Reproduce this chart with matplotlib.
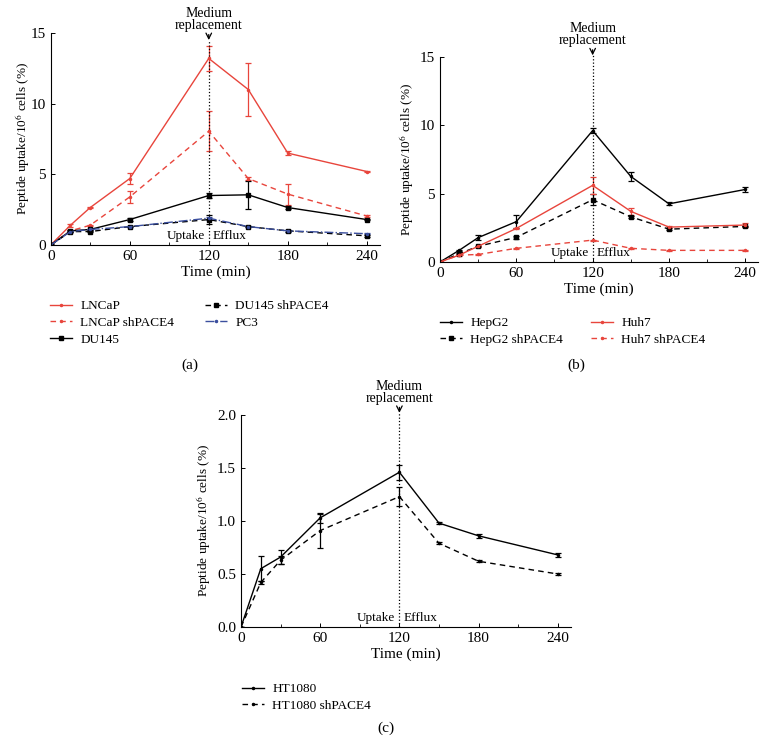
import matplotlib
matplotlib.use("Agg")
import matplotlib.pyplot as plt
from matplotlib.ticker import MultipleLocator, FormatStrFormatter
import matplotlib.transforms as mtransforms

plt.rcParams['font.family'] = ['Liberation Serif', 'DejaVu Serif']
plt.rcParams['font.size'] = 11
plt.rcParams['mathtext.fontset'] = 'stix'

RED = '#e8453c'
BLUE = '#3b4f9e'

# sampling times (min)
time = [0, 15, 30, 60, 120, 150, 180, 240]

# panel (a): prostate lines
lncap = [0, 1.4, 2.65, 4.7, 13.2, 11.0, 6.5, 5.2]
lncap_err = [0, 0.1, 0.05, 0.4, 0.9, 1.85, 0.15, 0.05]
lncap_sh = [0, 1.0, 1.4, 3.4, 8.05, 4.7, 3.6, 2.05]
lncap_sh_err = [0, 0.05, 0.05, 0.4, 1.4, 0.1, 0.75, 0.1]
du145 = [0, 1.0, 1.1, 1.8, 3.5, 3.55, 2.65, 1.8]
du145_err = [0, 0.05, 0.05, 0.1, 0.15, 1.0, 0.1, 0.05]
du145_sh = [0, 0.95, 0.95, 1.3, 1.8, 1.3, 1.0, 0.65]
du145_sh_err = [0, 0.05, 0.05, 0.05, 0.3, 0.05, 0.05, 0.05]
pc3 = [0, 0.95, 1.1, 1.3, 1.9, 1.3, 1.0, 0.8]
pc3_err = [0, 0.05, 0.05, 0.05, 0.1, 0.05, 0.05, 0.05]

# panel (b): liver lines
hepg2 = [0, 0.85, 1.78, 2.95, 9.6, 6.25, 4.25, 5.3]
hepg2_err = [0, 0.05, 0.2, 0.5, 0.2, 0.3, 0.1, 0.15]
hepg2_sh = [0, 0.6, 1.15, 1.8, 4.55, 3.3, 2.4, 2.6]
hepg2_sh_err = [0, 0.05, 0.05, 0.1, 0.4, 0.05, 0.05, 0.05]
huh7 = [0, 0.5, 1.15, 2.45, 5.6, 3.7, 2.55, 2.7]
huh7_err = [0, 0.05, 0.05, 0.05, 0.6, 0.25, 0.1, 0.15]
huh7_sh = [0, 0.5, 0.55, 1.0, 1.6, 1.0, 0.85, 0.85]
huh7_sh_err = [0, 0.02, 0.02, 0.02, 0.03, 0.02, 0.02, 0.02]

# panel (c): fibrosarcoma
ht1080 = [0, 0.55, 0.66, 1.03, 1.46, 0.98, 0.86, 0.68]
ht1080_err = [0, 0.12, 0.07, 0.05, 0.07, 0.01, 0.02, 0.02]
ht1080_sh = [0, 0.42, 0.63, 0.91, 1.23, 0.79, 0.62, 0.5]
ht1080_sh_err = [0, 0.01, 0.04, 0.16, 0.09, 0.01, 0.01, 0.01]

W, H = 766, 744


def px_axes(fig, x0, x1, y0, y1):
    """x0/x1 left/right px, y0/y1 top/bottom px (from top)"""
    return fig.add_axes([x0 / W, (H - y1) / H, (x1 - x0) / W, (y1 - y0) / H])


def series(ax, y, err, color, ls, marker, label):
    c = ax.errorbar(time, y, yerr=err, color=color, ls=ls, lw=1.0,
                    marker=marker, ms=3, capsize=2, elinewidth=0.9,
                    capthick=0.9, dashes=None if ls in ('-', '-.') else (4, 3))
    # legend shows only the line + marker
    return c[0], label


def style(ax, ymax, ystep, tip, fmt=None, ypad=3):
    ax.set_xlim(0, 250)
    ax.set_ylim(0, ymax)
    ax.spines['top'].set_visible(False)
    ax.spines['right'].set_visible(False)
    ax.xaxis.set_major_locator(MultipleLocator(60))
    ax.xaxis.set_minor_locator(MultipleLocator(30))
    ax.yaxis.set_major_locator(MultipleLocator(ystep))
    if fmt:
        ax.yaxis.set_major_formatter(FormatStrFormatter(fmt))
    ax.tick_params(which='major', direction='in', length=3, width=0.7)
    ax.tick_params(which='minor', direction='in', length=2, width=0.6)
    ax.tick_params(axis='y', which='minor', left=False)
    ax.set_xlabel('Time (min)', labelpad=2)
    ax.set_ylabel('Peptide uptake/10$^6$ cells (%)', labelpad=ypad, fontsize=9.5)
    ax.plot([120, 120], [0, tip], ls=':', color='black', lw=0.9, clip_on=False)
    ax.annotate('Medium\nreplacement', xy=(120, tip), xytext=(0, 6),
                textcoords='offset points', ha='center', va='bottom',
                fontsize=10, linespacing=0.9, annotation_clip=False,
                arrowprops=dict(arrowstyle='->', lw=0.9, color='black',
                                shrinkA=0, shrinkB=0))
    tr = mtransforms.blended_transform_factory(ax.transData, ax.transAxes)
    ax.text(117, 0.015, 'Uptake', ha='right', va='bottom', fontsize=9.5, transform=tr)
    ax.text(123, 0.015, 'Efflux', ha='left', va='bottom', fontsize=9.5, transform=tr)


def legend(fig, entries, x, y):
    handles = [e[0] for e in entries]
    labels = [e[1] for e in entries]
    leg = fig.legend(handles, labels, loc='upper left',
                     bbox_to_anchor=(x / W, (H - y) / H), frameon=False,
                     fontsize=9.5, handlelength=1.7, handletextpad=0.6,
                     labelspacing=0.35, borderaxespad=0, borderpad=0)
    return leg


fig = plt.figure(figsize=(W / 100, H / 100), dpi=100)

# (a)
ax_a = px_axes(fig, 50.7, 380, 33, 245)
h1 = series(ax_a, lncap, lncap_err, RED, '-', '.', 'LNCaP')
h2 = series(ax_a, lncap_sh, lncap_sh_err, RED, '--', '.', 'LNCaP shPACE4')
h3 = series(ax_a, du145, du145_err, 'black', '-', 's', 'DU145')
h4 = series(ax_a, du145_sh, du145_sh_err, 'black', '--', 's', 'DU145 shPACE4')
h5 = series(ax_a, pc3, pc3_err, BLUE, '-.', '.', 'PC3')
style(ax_a, 15, 5, 14.5, ypad=-1)
legend(fig, [h1, h2, h3], 50, 300)
legend(fig, [h4, h5], 205, 300)
fig.text(190 / W, (H - 365) / H, '(a)', ha='center', va='center')

# (b)
ax_b = px_axes(fig, 440, 758, 56.7, 262)
g1 = series(ax_b, hepg2, hepg2_err, 'black', '-', '.', 'HepG2')
g2 = series(ax_b, hepg2_sh, hepg2_sh_err, 'black', '--', 's', 'HepG2 shPACE4')
g3 = series(ax_b, huh7, huh7_err, RED, '-', '.', 'Huh7')
g4 = series(ax_b, huh7_sh, huh7_sh_err, RED, '--', '.', 'Huh7 shPACE4')
style(ax_b, 15, 5, 15.1)
legend(fig, [g1, g2], 440, 317)
legend(fig, [g3, g4], 591, 317)
fig.text(576 / W, (H - 365) / H, '(b)', ha='center', va='center')

# (c)
ax_c = px_axes(fig, 241, 571, 415, 627)
k1 = series(ax_c, ht1080, ht1080_err, 'black', '-', '.', 'HT1080')
k2 = series(ax_c, ht1080_sh, ht1080_sh_err, 'black', '--', '.', 'HT1080 shPACE4')
style(ax_c, 2.0, 0.5, 2.02, '%.1f')
legend(fig, [k1, k2], 242, 683)
fig.text(386 / W, (H - 728) / H, '(c)', ha='center', va='center')

fig.savefig('out.png', dpi=100)
